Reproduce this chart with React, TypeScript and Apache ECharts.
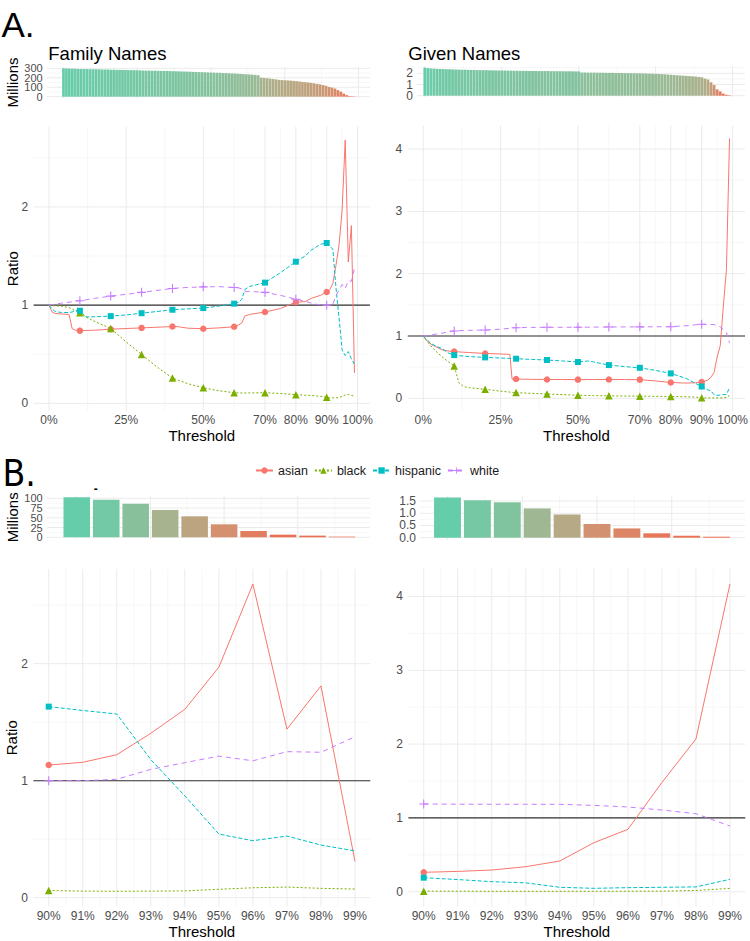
import React, { useEffect, useRef } from "react";
import * as echarts from "echarts";

// ---------------- data ----------------
const races = ["asian", "black", "hispanic", "white"];

// Panel A, family names: ratio by threshold (%) below the top decile
const famHeadX = [0, 1, 2, 4, 6.5, 7.5, 8.5, 10, 12, 15, 20, 25, 30, 35, 40, 42, 45, 50, 55, 60, 61.5, 62.5, 63.5, 65, 70, 75, 80, 83, 85, 88];
const famHeadAsian = [1.0, 0.93, 0.915, 0.91, 0.905, 0.76, 0.745, 0.74, 0.742, 0.745, 0.755, 0.762, 0.768, 0.775, 0.782, 0.78, 0.765, 0.76, 0.768, 0.78, 0.8, 0.82, 0.89, 0.905, 0.93, 0.965, 1.03, 1.035, 1.07, 1.1];
const famHeadBlack = [1.0, 0.995, 0.993, 0.99, 0.975, 0.96, 0.945, 0.923, 0.88, 0.83, 0.763, 0.625, 0.498, 0.37, 0.258, 0.235, 0.2, 0.159, 0.128, 0.108, 0.106, 0.105, 0.105, 0.106, 0.108, 0.1, 0.088, 0.083, 0.08, 0.072];
const famHeadHispanic = [1.0, 0.96, 0.935, 0.925, 0.925, 0.93, 0.945, 0.943, 0.88, 0.882, 0.888, 0.9, 0.918, 0.935, 0.953, 0.957, 0.962, 0.97, 0.99, 1.015, 1.03, 1.06, 1.16, 1.19, 1.229, 1.33, 1.442, 1.5, 1.56, 1.62];
const famHeadWhite = [1.0, 1.005, 1.01, 1.02, 1.03, 1.035, 1.04, 1.045, 1.055, 1.07, 1.092, 1.11, 1.13, 1.15, 1.17, 1.175, 1.18, 1.186, 1.188, 1.18, 1.175, 1.165, 1.14, 1.14, 1.13, 1.1, 1.06, 1.04, 1.02, 1.0];

// Panel A, given names
const givHeadX = [0, 1, 2.5, 4, 6, 8, 10, 11.5, 13, 15, 20, 25, 28, 28.7, 30, 35, 40, 45, 50, 53, 55, 60, 65, 70, 75, 80, 85, 88];
const givHeadAsian = [1.0, 0.93, 0.87, 0.83, 0.78, 0.76, 0.75, 0.745, 0.74, 0.735, 0.72, 0.712, 0.705, 0.31, 0.31, 0.305, 0.303, 0.302, 0.3, 0.302, 0.302, 0.303, 0.302, 0.3, 0.28, 0.255, 0.245, 0.25];
const givHeadBlack = [1.0, 0.93, 0.84, 0.76, 0.67, 0.59, 0.52, 0.25, 0.19, 0.17, 0.145, 0.115, 0.1, 0.097, 0.092, 0.08, 0.07, 0.06, 0.05, 0.046, 0.044, 0.04, 0.037, 0.035, 0.032, 0.03, 0.025, 0.02];
const givHeadHispanic = [1.0, 0.95, 0.88, 0.84, 0.8, 0.73, 0.694, 0.685, 0.678, 0.67, 0.657, 0.647, 0.64, 0.638, 0.636, 0.625, 0.615, 0.6, 0.583, 0.6, 0.585, 0.534, 0.51, 0.49, 0.45, 0.4, 0.32, 0.24];
const givHeadWhite = [1.0, 1.005, 1.015, 1.03, 1.045, 1.065, 1.08, 1.085, 1.09, 1.092, 1.096, 1.11, 1.125, 1.13, 1.134, 1.138, 1.14, 1.14, 1.142, 1.142, 1.143, 1.145, 1.146, 1.147, 1.148, 1.15, 1.165, 1.18];

// Top decile (panel B, also the tail of panel A)
const topX = [90, 91, 92, 93, 94, 95, 96, 97, 98, 99];
const famTopAsian = [1.134, 1.157, 1.222, 1.405, 1.61, 1.97, 2.68, 1.44, 1.81, 0.31];
const famTopBlack = [0.062, 0.056, 0.055, 0.056, 0.058, 0.072, 0.085, 0.091, 0.08, 0.074];
const famTopHispanic = [1.633, 1.6, 1.57, 1.18, 0.87, 0.544, 0.487, 0.527, 0.45, 0.4];
const famTopWhite = [1.0, 1.0, 1.012, 1.097, 1.154, 1.21, 1.17, 1.248, 1.243, 1.376];
const givTopAsian = [0.263, 0.275, 0.294, 0.339, 0.416, 0.664, 0.845, 1.48, 2.07, 4.17];
const givTopBlack = [0.008, 0.007, 0.006, 0.006, 0.006, 0.006, 0.007, 0.008, 0.017, 0.045];
const givTopHispanic = [0.19, 0.165, 0.136, 0.12, 0.06, 0.046, 0.055, 0.06, 0.065, 0.168];
const givTopWhite = [1.188, 1.186, 1.185, 1.185, 1.184, 1.17, 1.148, 1.107, 1.057, 0.89];

// Bars: millions of people per percentile threshold (0..89, then the top decile)
const famBarsHead = [
  300, 298, 297, 296, 295, 294, 293, 292, 292, 291,
  290, 290, 289, 288, 287, 287, 286, 285, 284, 284,
  283, 282, 281, 281, 280, 279, 278, 277, 276, 276,
  275, 275, 274, 273, 272, 272, 271, 270, 269, 268,
  267, 266, 265, 264, 262, 261, 260, 259, 258, 256,
  255, 254, 253, 252, 250, 249, 248, 246, 245, 243,
  241, 239, 237, 235, 233, 230, 227, 201, 198, 195,
  191, 187, 183, 178, 176, 174, 172, 170, 167, 164,
  160, 156, 153, 150, 146, 141, 135, 130, 123, 115,
];
const famTopBars = [102.6, 96.6, 86.3, 70, 53.8, 33.3, 16.2, 6.8, 4.3, 1.7];
const givBarsHead = [
  2.51, 2.47, 2.44, 2.42, 2.40, 2.39, 2.38, 2.37, 2.36, 2.35,
  2.34, 2.33, 2.32, 2.32, 2.31, 2.30, 2.30, 2.29, 2.29, 2.28,
  2.28, 2.27, 2.27, 2.26, 2.26, 2.25, 2.25, 2.24, 2.24, 2.23,
  2.23, 2.22, 2.22, 2.22, 2.21, 2.21, 2.21, 2.20, 2.20, 2.20,
  2.20, 2.19, 2.19, 2.19, 2.19, 2.18, 2.18, 2.18, 2.18, 2.17,
  2.17, 2.07, 2.07, 2.06, 2.06, 2.06, 2.05, 2.05, 2.05, 2.04,
  2.04, 2.04, 2.03, 2.03, 2.03, 2.02, 2.02, 2.01, 2.01, 2.00,
  2.00, 1.99, 1.98, 1.97, 1.96, 1.95, 1.94, 1.93, 1.91, 1.89,
  1.87, 1.85, 1.83, 1.81, 1.79, 1.77, 1.75, 1.73, 1.71, 1.68,
];
const givTopBars = [1.65, 1.53, 1.45, 1.2, 0.95, 0.56, 0.38, 0.18, 0.08, 0.04];

// Ticks / breaks
const aTicks = [0, 25, 50, 70, 80, 90, 100];
const aMinor = [12.5, 37.5, 60, 75, 85, 95];
const bMinor = [90.5, 91.5, 92.5, 93.5, 94.5, 95.5, 96.5, 97.5, 98.5];
const aMarks = [10, 20, 30, 40, 50, 60, 70, 80, 90];
const bMarks = [90];
const famRatioTicks = [0, 1, 2];
const famRatioMinor = [0.5, 1.5, 2.5];
const givRatioTicks = [0, 1, 2, 3, 4];
const givRatioMinor = [0.5, 1.5, 2.5, 3.5];
const famMilTicks = [0, 100, 200, 300];
const famMilMinor = [50, 150, 250];
const givMilTicks = [0, 1, 2];
const givMilMinor = [0.5, 1.5, 2.5];
const famTopMilTicks = [0, 25, 50, 75, 100];
const famTopMilMinor = [12.5, 37.5, 62.5, 87.5];
const givTopMilTicks = [0, 0.5, 1, 1.5];
const givTopMilMinor = [0.25, 0.75, 1.25];
const pctBreaks = [0, 25, 50, 75, 100];
const pctMinor = [12.5, 37.5, 62.5, 87.5];
const topPctBreaks = [90, 92.5, 95, 97.5];
const topPctMinor = [91.25, 93.75, 96.25, 98.75];

// ---------------- styles ----------------
const FONT = "'Liberation Sans', Arial, Helvetica, sans-serif";
const TICK = "#4D4D4D";
const raceColors = ["#F8766D", "#7CAE00", "#00BFC4", "#C77CFF"];
const raceDash: any[] = ["solid", [2, 2], [4, 2], [5, 4]];
const raceSymbols = [
  "circle",
  "triangle",
  "rect",
  "path://M4.4,0H5.6V4.4H10V5.6H5.6V10H4.4V5.6H0V4.4H4.4Z",
];
const raceSymbolSize = [6.5, 7.5, 6, 9];
const barRamp = ["#EE6A50", "#DC8868", "#C1A27E", "#9CB994", "#66CDAA"];

function buildOption() {
  const grids = [
    { left: 46.7, top: 66.9, width: 323.3, height: 31.2 },
    { left: 417, top: 66.2, width: 328, height: 30.9 },
    { left: 33.6, top: 126.4, width: 336.3, height: 284.5 },
    { left: 407.8, top: 125.5, width: 337.2, height: 285.5 },
    { left: 46.7, top: 495.3, width: 323.3, height: 44 },
    { left: 420, top: 495.4, width: 325, height: 44.3 },
    { left: 33.4, top: 568.9, width: 336.9, height: 337.7 },
    { left: 408.4, top: 568.6, width: 336.9, height: 338.1 },
  ].map((g) => ({ ...g, containLabel: false, outerBoundsMode: "none", show: false }));

  const xr = [
    [-5.69, 103.9], [-2.55, 104.05], [-5, 104], [-5, 104],
    [88.98, 99.95], [89.08, 99.95], [89.55, 99.45], [89.55, 99.45],
  ];
  const yr = [
    [-15, 315], [-0.126, 2.636], [-0.077, 2.82], [-0.203, 4.378],
    [-5.13, 107.7], [-0.0825, 1.7325], [-0.076, 2.81], [-0.203, 4.378],
  ];

  const base = (gi: number, r: number[]) => ({
    type: "value",
    gridIndex: gi,
    min: r[0],
    max: r[1],
    splitLine: { show: false },
    axisLine: { show: false },
    axisTick: { show: false },
    axisLabel: { show: false },
  });
  const lbl = (values: number[], margin: number, fmt?: any, fontSize = 12, lineHeight?: number) => {
    const o: any = {
      show: true, customValues: values, margin, fontSize, color: TICK,
      fontFamily: FONT, hideOverlap: false, showMinLabel: true, showMaxLabel: true, interval: 0,
    };
    if (lineHeight) o.lineHeight = lineHeight;
    if (fmt) o.formatter = fmt;
    return o;
  };
  const pct = (v: number) => v + "%";
  const xName = {
    name: "Threshold", nameLocation: "middle", nameGap: 17, nameMoveOverlap: false,
    nameTextStyle: { fontSize: 15, color: "#000", fontFamily: FONT },
  };
  const yName = (name: string, gap: number) => ({
    name, nameLocation: "middle", nameGap: gap, nameRotate: 90, nameMoveOverlap: false,
    nameTextStyle: { fontSize: 15, color: "#000", fontFamily: FONT },
  });

  // the tightly packed bar tick labels are split over two axes of the same grid,
  // so that the library does not thin them out
  const evenOdd = (vals: number[], odd: boolean) => vals.filter((_, i) => (i % 2 === 1) === odd);

  const xAxis: any[] = [
    base(0, xr[0]), base(1, xr[1]),
    { ...base(2, xr[2]), axisLabel: lbl(aTicks, 3, pct), ...xName },
    { ...base(3, xr[3]), axisLabel: lbl(aTicks, 3, pct), ...xName },
    base(4, xr[4]), base(5, xr[5]),
    { ...base(6, xr[6]), axisLabel: lbl(topX, 3, pct), ...xName },
    { ...base(7, xr[7]), axisLabel: lbl(topX, 3, pct), ...xName },
  ];
  const yAxis: any[] = [
    { ...base(0, yr[0]), axisLabel: lbl(evenOdd(famMilTicks, false), 4, undefined, 11, 9), ...yName("Millions", 27) },
    { ...base(1, yr[1]), axisLabel: lbl(evenOdd(givMilTicks, false), 4, undefined, 12, 10.5) },
    { ...base(2, yr[2]), axisLabel: lbl(famRatioTicks, 5.5), ...yName("Ratio", 14) },
    { ...base(3, yr[3]), axisLabel: lbl(givRatioTicks, 5.5) },
    { ...base(4, yr[4]), axisLabel: lbl(evenOdd(famTopMilTicks, false), 4, undefined, 11, 9.3), ...yName("Millions", 27) },
    { ...base(5, yr[5]), axisLabel: lbl(givTopMilTicks, 4, (v: number) => v.toFixed(1), 12, 11.5) },
    { ...base(6, yr[6]), axisLabel: lbl(famRatioTicks, 5.5), ...yName("Ratio", 14) },
    { ...base(7, yr[7]), axisLabel: lbl(givRatioTicks, 5.5) },
    // companion axes carrying the other half of the tick labels (indices 8, 9, 10)
    { ...base(0, yr[0]), position: "left", offset: 0, axisLabel: lbl(evenOdd(famMilTicks, true), 4, undefined, 11, 9) },
    { ...base(4, yr[4]), position: "left", offset: 0, axisLabel: lbl(evenOdd(famTopMilTicks, true), 4, undefined, 11, 9.3) },
    { ...base(1, yr[1]), position: "left", offset: 0, axisLabel: lbl(evenOdd(givMilTicks, true), 4, undefined, 12, 10.5) },
  ];

  const series: any[] = [];
  const gridSeries = (gi: number, xs: number[], ys: number[], color: string, width: number) => {
    const data: any[] = [];
    xs.forEach((v) => { data.push([v, yr[gi][0]], [v, yr[gi][1]], ["-", "-"]); });
    ys.forEach((v) => { data.push([xr[gi][0], v], [xr[gi][1], v], ["-", "-"]); });
    series.push({
      type: "line", xAxisIndex: gi, yAxisIndex: gi, data, symbol: "none", silent: true,
      connectNulls: false, z: 1, lineStyle: { color, width }, emphasis: { disabled: true },
    });
  };
  const MAJ = "#EBEBEB";
  const MIN = "#F3F3F3";
  const gridSpec: [number[], number[], number[], number[]][] = [
    [pctBreaks, pctMinor, famMilTicks, famMilMinor],
    [pctBreaks, pctMinor, givMilTicks, givMilMinor],
    [aTicks, aMinor, famRatioTicks, famRatioMinor],
    [aTicks, aMinor, givRatioTicks, givRatioMinor],
    [topPctBreaks, topPctMinor, famTopMilTicks, famTopMilMinor],
    [topPctBreaks, topPctMinor, givTopMilTicks, givTopMilMinor],
    [topX, bMinor, famRatioTicks, famRatioMinor],
    [topX, bMinor, givRatioTicks, givRatioMinor],
  ];
  gridSpec.forEach((s, gi) => {
    gridSeries(gi, s[1], s[3], MIN, 0.7);
    gridSeries(gi, s[0], s[2], MAJ, 1);
  });

  // bars
  const visualMap: any[] = [];
  const addBars = (gi: number, xs: number[], vals: number[], width: string) => {
    const idx = series.length;
    series.push({
      type: "bar", xAxisIndex: gi, yAxisIndex: gi, silent: true, z: 2, barWidth: width,
      data: xs.map((x, i) => [x, vals[i]]),
    });
    visualMap.push({
      type: "continuous", show: false, seriesIndex: idx, dimension: 1,
      min: 0, max: Math.max(...vals), inRange: { color: barRamp },
    });
  };
  const famBars = famBarsHead.concat(famTopBars);
  const givBars = givBarsHead.concat(givTopBars);
  addBars(0, famBars.map((_, i) => i), famBars, "92%");
  addBars(1, givBars.map((_, i) => i), givBars, "92%");
  addBars(4, topX, famTopBars, "90%");
  addBars(5, topX, givTopBars, "90%");

  // reference line at ratio 1
  [2, 3, 6, 7].forEach((gi) => {
    series.push({
      type: "line", xAxisIndex: gi, yAxisIndex: gi, symbol: "none", silent: true, z: 2,
      data: [[xr[gi][0], 1], [xr[gi][1], 1]], lineStyle: { color: "#333333", width: 1.1 },
      emphasis: { disabled: true },
    });
  });

  const addRace = (gi: number, r: number, xs: number[], ys: number[], marks: number[]) => {
    series.push({
      type: "line", name: races[r], xAxisIndex: gi, yAxisIndex: gi, silent: true, z: 3,
      symbol: raceSymbols[r], symbolSize: raceSymbolSize[r], showSymbol: true,
      lineStyle: { color: raceColors[r], width: 1, type: raceDash[r] },
      itemStyle: { color: raceColors[r] },
      emphasis: { disabled: true },
      data: xs.map((x, i) =>
        marks.indexOf(x) >= 0 ? { value: [x, ys[i]] } : { value: [x, ys[i]], symbol: "none" }
      ),
    });
  };
  const famX = famHeadX.concat(topX);
  const givX = givHeadX.concat(topX);
  const famA = [famHeadAsian.concat(famTopAsian), famHeadBlack.concat(famTopBlack), famHeadHispanic.concat(famTopHispanic), famHeadWhite.concat(famTopWhite)];
  const givA = [givHeadAsian.concat(givTopAsian), givHeadBlack.concat(givTopBlack), givHeadHispanic.concat(givTopHispanic), givHeadWhite.concat(givTopWhite)];
  const famB = [famTopAsian, famTopBlack, famTopHispanic, famTopWhite];
  const givB = [givTopAsian, givTopBlack, givTopHispanic, givTopWhite];
  for (let r = 0; r < 4; r++) {
    addRace(2, r, famX, famA[r], aMarks);
    addRace(3, r, givX, givA[r], aMarks);
    addRace(6, r, topX, famB[r], bMarks);
    addRace(7, r, topX, givB[r], bMarks);
  }

  const txt = (text: string, x: number, y: number, fontSize: number, family = FONT, extra: any = {}) => ({
    type: "text", x, y, silent: true,
    style: { text, fontSize, fontFamily: family, fill: "#000", align: "left", verticalAlign: "middle", ...extra },
  });

  return {
    animation: false,
    backgroundColor: "#FFFFFF",
    grid: grids,
    xAxis,
    yAxis,
    visualMap,
    series,
    legend: {
      data: races, top: 459, left: 250, itemWidth: 17, itemHeight: 8, itemGap: 6,
      selectedMode: false,
      textStyle: { fontSize: 12.5, color: "#1A1A1A", fontFamily: FONT },
    },
    graphic: [
      txt("A.", 1.5, 24.2, 35),
      txt("Family Names", 48.3, 53.6, 18.5),
      txt("Given Names", 408.3, 53.6, 18.5),
      txt("B.", 2.5, 473.5, 37, "'Liberation Sans Narrow', 'DejaVu Sans Condensed', " + FONT),
      txt("-", 95.8, 489.3, 12, FONT, { align: "center", fontWeight: "bold" }),
    ],
  };
}

export default function App() {
  const ref = useRef<HTMLDivElement>(null);
  useEffect(() => {
    document.body.style.margin = "0";
    if (!ref.current) return;
    const chart = echarts.init(ref.current, undefined, { renderer: "svg" });
    chart.setOption(buildOption() as any);
    return () => chart.dispose();
  }, []);
  return (
    <div
      ref={ref}
      style={{ position: "absolute", left: 0, top: 0, width: 750, height: 941, background: "#fff" }}
    />
  );
}
